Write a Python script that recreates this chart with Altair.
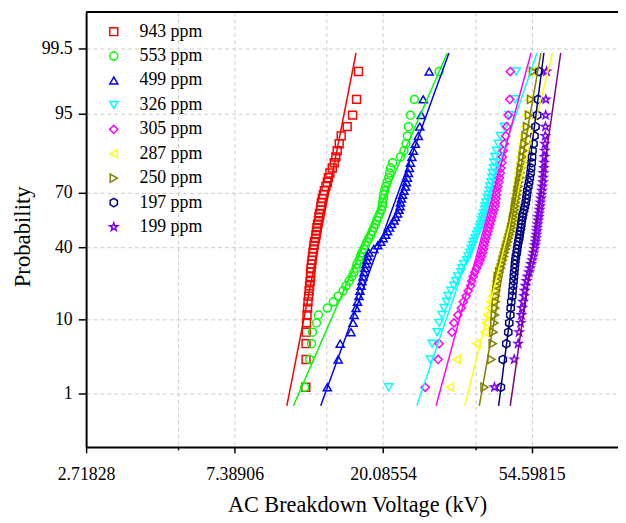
import math
from statistics import NormalDist
import altair as alt
import pandas as pd

# ---------------- data ----------------
series = ["943 ppm", "553 ppm", "499 ppm", "326 ppm", "305 ppm",
          "287 ppm", "250 ppm", "197 ppm", "199 ppm"]

# plotting positions (cumulative probability, %) shared by all 50-point samples
prob_pct = [1.244, 3.234, 5.224, 7.214, 9.204, 11.194, 13.184, 15.174, 17.164, 19.154,
            21.144, 23.134, 25.124, 27.114, 29.104, 31.095, 33.085, 35.075, 37.065, 39.055,
            41.045, 43.035, 45.025, 47.015, 49.005, 50.995, 52.985, 54.975, 56.965, 58.955,
            60.945, 62.935, 64.925, 66.915, 68.905, 70.896, 72.886, 74.876, 76.866, 78.856,
            80.846, 82.836, 84.826, 86.816, 88.806, 90.796, 92.786, 94.776, 96.766, 98.756]

kv_943 = [11.93, 11.95, 11.95, 11.96, 11.99, 12.03, 12.07, 12.11, 12.16, 12.20,
          12.24, 12.28, 12.32, 12.32, 12.36, 12.40, 12.44, 12.48, 12.52, 12.57,
          12.61, 12.65, 12.74, 12.78, 12.82, 12.86, 12.91, 12.99, 13.03, 13.08,
          13.17, 13.21, 13.25, 13.34, 13.43, 13.52, 13.66, 13.79, 13.89, 14.03,
          14.26, 14.45, 14.60, 14.74, 14.94, 15.14, 15.76, 16.35, 16.79, 17.01]
kv_553 = [11.84, 12.24, 12.40, 12.48, 12.82, 12.99, 13.79, 14.36, 14.84, 15.34,
          15.65, 15.97, 16.29, 16.51, 16.73, 16.84, 17.07, 17.24, 17.41, 17.65,
          17.82, 18.00, 18.24, 18.49, 18.67, 18.86, 19.05, 19.24, 19.43, 19.63,
          19.83, 19.96, 20.02, 20.09, 20.16, 20.29, 20.43, 20.63, 20.84, 20.98,
          21.12, 21.40, 22.57, 23.10, 23.41, 23.65, 23.81, 24.13, 24.78, 29.26]
kv_499 = [13.79, 14.84, 15.04, 16.18, 16.40, 16.51, 16.73, 16.90, 17.07, 17.18,
          17.30, 17.41, 17.53, 17.65, 17.76, 17.88, 18.00, 18.12, 18.24, 18.86,
          19.37, 19.76, 20.09, 20.43, 20.70, 20.98, 21.26, 21.62, 21.83, 22.13,
          22.35, 22.50, 22.57, 22.72, 22.88, 23.11, 23.34, 23.49, 23.65, 23.81,
          23.97, 24.13, 24.37, 24.61, 24.94, 25.45, 25.70, 25.96, 26.31, 27.38]
kv_326 = [20.84, 27.56, 27.93, 28.88, 29.26, 29.85, 30.25, 30.76, 31.07, 31.70,
          32.34, 32.77, 33.21, 33.88, 34.10, 34.56, 35.26, 35.61, 35.97, 36.33,
          36.69, 36.94, 37.31, 37.69, 38.06, 38.45, 38.70, 38.96, 39.22, 39.48,
          39.75, 39.88, 40.15, 40.55, 40.82, 41.09, 41.23, 41.50, 41.78, 41.92,
          42.20, 42.34, 42.62, 43.05, 43.63, 44.21, 45.41, 46.94, 48.86, 49.18]
kv_305 = [26.66, 29.07, 29.26, 31.91, 32.34, 33.21, 33.99, 34.45, 35.14, 35.61,
          36.21, 36.45, 36.82, 37.19, 37.69, 38.19, 38.57, 38.96, 39.22, 39.48,
          39.61, 39.88, 40.15, 40.41, 40.68, 40.96, 41.23, 41.50, 41.78, 42.06,
          42.34, 42.62, 42.77, 42.91, 43.05, 43.19, 43.48, 43.77, 43.92, 44.21,
          44.36, 44.66, 44.81, 45.10, 45.41, 45.86, 46.17, 46.63, 47.10, 47.26]
kv_287 = [31.49, 32.99, 37.69, 39.75, 40.15, 40.55, 40.96, 41.37, 41.78, 42.20,
          42.48, 42.77, 43.05, 43.34, 43.63, 44.07, 44.51, 44.81, 45.10, 45.41,
          45.71, 46.01, 46.32, 46.63, 46.94, 47.26, 47.57, 47.89, 48.05, 48.21,
          48.37, 48.53, 48.69, 48.86, 49.02, 49.18, 49.35, 49.51, 49.68, 49.84,
          50.17, 50.34, 50.51, 50.85, 51.19, 51.53, 52.22, 52.74, 53.63, 54.71]
kv_250 = [39.75, 41.64, 42.00, 42.20, 42.48, 42.62, 42.77, 42.85, 42.91, 43.05,
          43.19, 43.34, 43.48, 43.92, 44.36, 44.66, 44.95, 45.26, 45.56, 45.86,
          46.17, 46.48, 46.79, 47.10, 47.41, 47.57, 47.89, 48.05, 48.21, 48.53,
          48.69, 48.86, 49.02, 49.35, 49.51, 49.68, 50.01, 50.17, 50.51, 50.68,
          50.85, 51.19, 51.36, 51.70, 52.05, 52.39, 52.92, 53.63, 54.35, 55.07]
kv_197 = [44.36, 44.95, 46.01, 46.63, 46.94, 47.26, 47.41, 47.57, 47.89, 47.99,
          48.15, 48.31, 48.44, 48.53, 48.69, 48.79, 48.92, 49.08, 49.35, 49.51,
          49.68, 49.91, 50.17, 50.34, 50.51, 50.75, 50.92, 51.08, 51.29, 51.53,
          51.87, 52.15, 52.46, 52.67, 52.85, 53.02, 53.34, 53.63, 53.91, 54.17,
          54.35, 54.60, 54.71, 54.89, 55.26, 55.63, 56.00, 56.67, 57.02, 57.44]
kv_199 = [42.48, 48.53, 49.84, 50.17, 50.68, 50.95, 51.19, 51.53, 51.87, 52.11,
          52.39, 52.74, 53.09, 53.63, 53.99, 54.35, 54.71, 55.07, 55.26, 55.63,
          55.81, 56.00, 56.19, 56.37, 56.56, 56.67, 56.86, 57.02, 57.20, 57.40,
          57.59, 57.78, 57.93, 58.09, 58.28, 58.48, 58.67, 58.87, 58.98, 59.10,
          59.26, 59.38, 59.50, 59.65, 59.73, 59.81, 59.89, 59.97, 60.05, 60.33]
samples = [kv_943, kv_553, kv_499, kv_326, kv_305, kv_287, kv_250, kv_197, kv_199]

# fitted lognormal lines: voltage at the two ends of each line
fit_prob_pct = [0.61, 99.39]
fit_lo_kv = [10.50, 10.98, 13.19, 25.19, 28.69, 34.79, 38.37, 43.69, 47.26]
fit_hi_kv = [16.73, 30.93, 31.28, 56.56, 54.35, 62.79, 58.09, 59.26, 66.36]

x_ticks = [2.71828, 5.05367, 7.38906, 13.73730, 20.08554, 37.34185, 54.59815]
y_ticks_pct = [1, 10, 40, 70, 95, 99.5]

# ---------------- styles ----------------
point_colors = ["#FF0000", "#00FF00", "#0000FF", "#00FFFF", "#FF00FF",
                "#FFFF00", "#808000", "#000080", "#8000FF"]
line_colors = ["#FF0000", "#00FF00", "#0000FF", "#00FFFF", "#FF00FF",
               "#FFFF00", "#808000", "#000080", "#800080"]
hexagon = "M0,-1L0.866,-0.5L0.866,0.5L0,1L-0.866,0.5L-0.866,-0.5Z"
star = ("M0,-1L0.235,-0.324L0.951,-0.309L0.380,0.124L0.588,0.809L0,0.4"
        "L-0.588,0.809L-0.380,0.124L-0.951,-0.309L-0.235,-0.324Z")
shapes = ["square", "circle", "triangle-up", "triangle-down", "diamond",
          "triangle-left", "triangle-right", hexagon, star]
sym_sizes = [64, 72, 100, 100, 140, 100, 100, 85, 110]

nd = NormalDist()
rows = []
for name, vals in zip(series, samples):
    for v, p in zip(vals, prob_pct):
        rows.append({"series": name, "kv": v, "z": nd.inv_cdf(p / 100)})
pts = pd.DataFrame(rows)

lrows = []
for name, lo, hi in zip(series, fit_lo_kv, fit_hi_kv):
    lrows.append({"series": name, "kv": lo, "z": nd.inv_cdf(fit_prob_pct[0] / 100)})
    lrows.append({"series": name, "kv": hi, "z": nd.inv_cdf(fit_prob_pct[1] / 100)})
lines = pd.DataFrame(lrows)

W, H = 538, 440
x_dom = [min(x_ticks), math.exp(4.581)]
y_dom = [nd.inv_cdf(0.001), nd.inv_cdf(0.999)]
y_vals = [nd.inv_cdf(p / 100) for p in y_ticks_pct]
y_label = ("datum.value < -1.8 ? '1' : datum.value < -0.8 ? '10' : datum.value < 0 ? '40' : "
           "datum.value < 1 ? '70' : datum.value < 2 ? '95' : '99.5'")
is_major = "abs(log(datum.value) - round(log(datum.value))) < 0.01"

FONT = "Liberation Serif"
xscale = alt.Scale(type="log", base=math.e, domain=x_dom, nice=False, zero=False)
yscale = alt.Scale(domain=y_dom, nice=False, zero=False)

x_axis = alt.Axis(values=x_ticks, title="AC Breakdown Voltage (kV)",
                  labelExpr=f"{is_major} ? format(datum.value, '.5f') : ''",
                  tickSize={"condition": {"test": is_major, "value": 6}, "value": 3},
                  labelPadding=13, labelFlush=False, titleX=274, titleY=65.5,
                  titleFontSize=22.5,
                  titleBaseline="alphabetic", titleAlign="center")
y_axis = alt.Axis(values=y_vals, labelExpr=y_label, title="Probability",
                  tickSize=8, labelPadding=6, titleX=-57, titleY=H / 2 + 7,
                  titleFontSize=23,
                  titleAngle=270, titleBaseline="alphabetic", titleAlign="center")

legend = alt.Legend(title=None, orient="none", legendX=19, legendY=11, padding=0,
                    labelFont=FONT, labelFontSize=18, labelColor="black",
                    labelOffset=17, rowPadding=6.7, symbolStrokeWidth=1.5)

points = alt.Chart(pts).mark_point(filled=False, strokeWidth=1.5, opacity=1).encode(
    x=alt.X("kv:Q", scale=xscale, axis=x_axis),
    y=alt.Y("z:Q", scale=yscale, axis=y_axis),
    color=alt.Color("series:N", scale=alt.Scale(domain=series, range=point_colors), legend=legend),
    shape=alt.Shape("series:N", scale=alt.Scale(domain=series, range=shapes), legend=legend),
    size=alt.Size("series:N", scale=alt.Scale(domain=series, range=sym_sizes), legend=legend),
)

fits = alt.Chart(lines).mark_line(strokeWidth=1.5).encode(
    x=alt.X("kv:Q", scale=xscale, axis=x_axis),
    y=alt.Y("z:Q", scale=yscale, axis=y_axis),
    stroke=alt.Stroke("series:N", scale=alt.Scale(domain=series, range=line_colors), legend=None),
    detail="series:N",
)

frame = alt.Chart(alt.Data(values=[{}])).mark_rule(color="black", strokeWidth=2).encode(
    x=alt.value(0), x2=alt.value(W), y=alt.value(0))

chart = alt.layer(points, fits, frame).properties(
    width=W, height=H,
    autosize=alt.AutoSizeParams(type="none"),
    padding={"left": 79, "top": 1, "right": 0, "bottom": 72},
).configure_view(stroke=None).configure_axis(
    labelFont=FONT, labelFontSize=18, labelColor="black",
    titleFont=FONT, titleFontSize=22, titleFontWeight="normal", titleColor="black",
    domainColor="black", domainWidth=2, tickColor="black", tickWidth=1.5,
    grid=True, gridColor="#cccccc", gridDash=[4, 3], gridWidth=1,
)

chart.save("out.html", embed_options={"renderer": "svg", "actions": False})
